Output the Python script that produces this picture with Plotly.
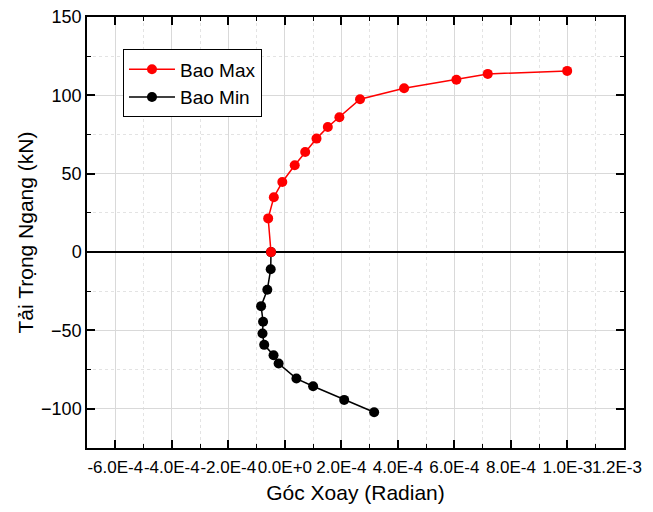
import plotly.graph_objects as go

# Bao Max (envelope, positive load)
max_x = [-0.49e-4, -0.59e-4, -0.39e-4, -0.09e-4, 0.35e-4, 0.72e-4, 1.12e-4,
         1.52e-4, 1.93e-4, 2.66e-4, 4.22e-4, 6.07e-4, 7.18e-4, 9.99e-4]
max_y = [0.0, 21.5, 35.0, 44.7, 55.4, 63.9, 72.4, 79.8, 86.0, 97.5, 104.5,
         110.0, 113.7, 115.6]

# Bao Min (envelope, negative load)
min_x = [-0.49e-4, -0.50e-4, -0.62e-4, -0.84e-4, -0.77e-4, -0.79e-4, -0.73e-4,
         -0.40e-4, -0.22e-4, 0.41e-4, 1.00e-4, 2.10e-4, 3.16e-4]
min_y = [0.0, -10.9, -24.0, -34.5, -44.5, -51.9, -59.2, -65.8, -71.1, -80.7,
         -85.6, -94.3, -102.2]

x_tick_vals = [-6e-4, -4e-4, -2e-4, 0.0, 2e-4, 4e-4, 6e-4, 8e-4, 1e-3, 1.2e-3]
x_tick_text = ["-6.0E-4", "-4.0E-4", "-2.0E-4", "0.0E+0", "2.0E-4", "4.0E-4",
               "6.0E-4", "8.0E-4", "1.0E-3", "1.2E-3"]
y_tick_vals = [-100, -50, 0, 50, 100, 150]

FONT = "Liberation Sans, Arial, sans-serif"

# keep the right-most label inside the visible page (pad it on the right)
x_tick_text_shown = x_tick_text[:-1] + [x_tick_text[-1] + "\u00a0\u00a0\u00a0"]

fig = go.Figure()
fig.add_trace(go.Scatter(
    x=min_x, y=min_y, mode="lines+markers", name="Bao Min",
    line=dict(color="#000000", width=1.5),
    marker=dict(color="#000000", size=10),
    legendrank=2,
))
fig.add_trace(go.Scatter(
    x=max_x, y=max_y, mode="lines+markers", name="Bao Max",
    line=dict(color="#ff0000", width=1.5),
    marker=dict(color="#ff0000", size=10),
    legendrank=1,
))

axis_common = dict(
    showline=True, linecolor="#000000", linewidth=1.5, mirror="ticks",
    ticks="inside", ticklen=8, tickwidth=1.5, tickcolor="#000000",
    showgrid=True, gridcolor="#d9d9d9", gridwidth=1,
    automargin=False, ticklabeloverflow="allow",
)

fig.update_xaxes(
    **axis_common,
    tickfont=dict(family=FONT, size=17, color="#000000"),
    range=[-7e-4, 1.2e-3],
    tickmode="array", tickvals=x_tick_vals, ticktext=x_tick_text_shown,
    tickangle=0, zeroline=False, ticklabelstandoff=3,
    minor=dict(dtick=1e-4, tick0=0, ticks="inside", ticklen=4, tickwidth=1.2,
               tickcolor="#000000", showgrid=True, gridcolor="#e3e3e3",
               griddash="dot", gridwidth=1),
    title=dict(text="Góc Xoay (Radian)", font=dict(family=FONT, size=21, color="#000000"),
               standoff=12),
)
fig.update_yaxes(
    **axis_common,
    tickfont=dict(family=FONT, size=18, color="#000000"),
    range=[-125, 150],
    tickmode="array", tickvals=y_tick_vals,
    zeroline=True, zerolinecolor="#000000", zerolinewidth=1.5,
    minor=dict(dtick=25, tick0=0, ticks="inside", ticklen=4, tickwidth=1.2,
               tickcolor="#000000", showgrid=True, gridcolor="#e3e3e3",
               griddash="dot", gridwidth=1),
    title=dict(text="Tải Trọng Ngang (kN)", font=dict(family=FONT, size=21, color="#000000"),
               standoff=2),
)

fig.update_layout(
    width=645, height=496,
    margin=dict(l=79, r=29, t=9, b=56),
    paper_bgcolor="#ffffff", plot_bgcolor="#ffffff",
    showlegend=True,
    legend=dict(
        x=0.067, y=0.846, xanchor="left", yanchor="middle",
        bgcolor="#ffffff", bordercolor="#000000", borderwidth=1,
        font=dict(family=FONT, size=19, color="#000000"),
        tracegroupgap=0, itemwidth=46,
    ),
)

fig.write_html("out.html")
